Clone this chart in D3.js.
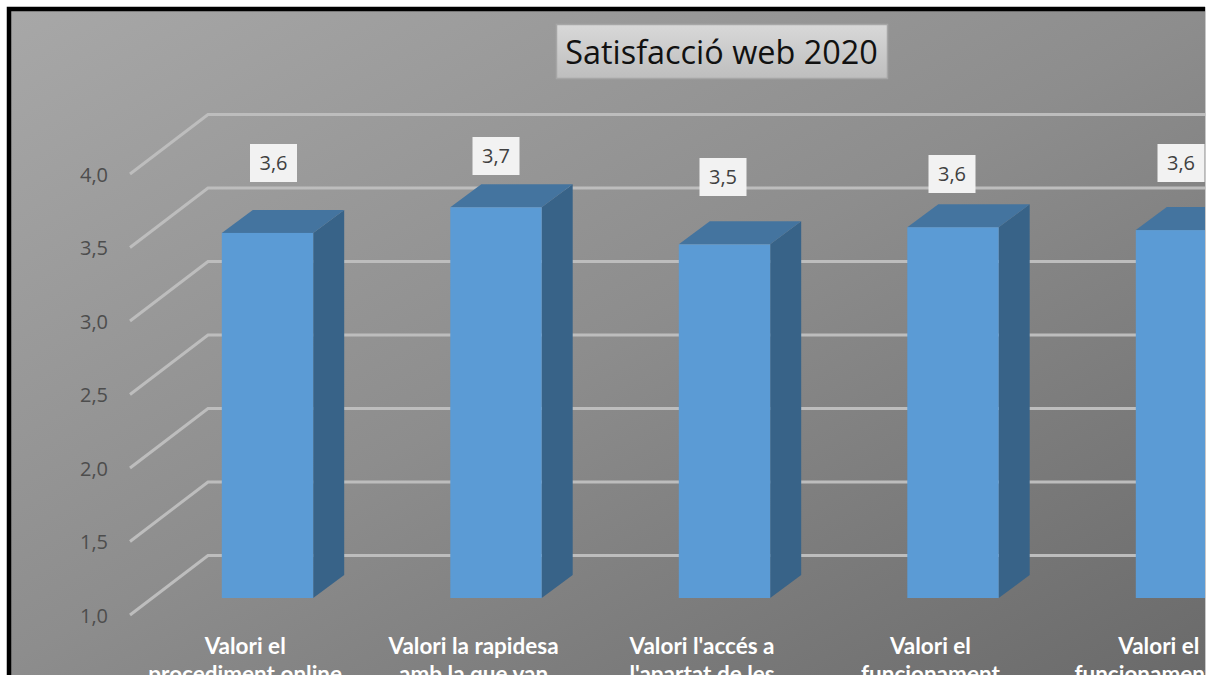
<!DOCTYPE html>
<html>
<head>
<meta charset="utf-8">
<script src="https://cdnjs.cloudflare.com/ajax/libs/d3/7.8.5/d3.min.js"></script>
<style>
html, body { margin: 0; padding: 0; background: #fff; overflow: hidden; }
</style>
</head>
<body>
<div id="chart"></div>
<script>
var titleText = "Satisfacció web 2020";
var catLine1 = ["Valori el", "Valori la rapidesa", "Valori l'accés a", "Valori el", "Valori el"];
var catLine2 = ["procediment online", "amb la que van", "l'apartat de les", "funcionament", "funcionament"];
var values = [3.56, 3.74, 3.48, 3.6, 3.58];
var ticks = [1, 1.5, 2, 2.5, 3, 3.5, 4];

function init(){
    var w = 1208;
    var h = 675;
    var depthX = 78, depthY = 59.5;   // wall depth
    var barDx = 31, barDy = 23;       // bar depth

    var svg = d3.select("#chart").append("svg")
                .attr("width", w)
                .attr("height", h)
                .style("display", "block");

    var fmt = d3.formatLocale({decimal: ",", thousands: ".", grouping: [3], currency: ["", ""]}).format(".1f");

    var defs = svg.append("defs");
    var bg = defs.append("linearGradient").attr("id", "bg")
                .attr("gradientUnits", "userSpaceOnUse")
                .attr("x1", 0).attr("y1", 0).attr("x2", 558).attr("y2", 1028);
    bg.append("stop").attr("offset", 0).attr("stop-color", "#a8a8a8");
    bg.append("stop").attr("offset", 0.5).attr("stop-color", "#8d8d8d");
    bg.append("stop").attr("offset", 1).attr("stop-color", "#6a6a6a");
    var tb = defs.append("linearGradient").attr("id", "titleBg")
                .attr("x1", 0).attr("y1", 0).attr("x2", 0).attr("y2", 1);
    tb.append("stop").attr("offset", 0).attr("stop-color", "#d8d8d8");
    tb.append("stop").attr("offset", 1).attr("stop-color", "#bebebe");

    defs.append("clipPath").attr("id", "plotClip").append("rect")
        .attr("x", 9).attr("y", 9).attr("width", 1196).attr("height", 670);

    // chart area
    svg.append("rect")
        .attr("x", 9).attr("y", 9).attr("width", 1196).attr("height", 680)
        .attr("fill", "url(#bg)");
    svg.append("line").attr("x1", 1205.5).attr("x2", 1205.5).attr("y1", 7).attr("y2", 675)
        .attr("stroke", "#c8c8c8").attr("stroke-width", 1);
    svg.append("path")
        .attr("d", "M9,690V9H1205")
        .attr("fill", "none").attr("stroke", "#000").attr("stroke-width", 4.5);

    var plot = svg.append("g").attr("clip-path", "url(#plotClip)");

    // scales: wall plane and the plane of the bar fronts
    var yWall = d3.scaleLinear().domain([1, 4]).range([615, 174]);
    var yBar = d3.scaleLinear().domain([1, 4]).range([598, 170.2]);
    var x = d3.scaleBand().domain(d3.range(values.length))
                .range([153.25, 1295.75]).paddingInner(0.6).paddingOuter(0.3);
    var xLabel = d3.scaleBand().domain(d3.range(values.length))
                .range([131, 1273]);

    // gridlines
    plot.selectAll("path.grid")
        .data(ticks)
        .enter()
        .append("path")
        .attr("class", "grid")
        .attr("d", function(d){
            var y0 = yWall(d);
            return "M130," + y0 + "L" + (130 + depthX) + "," + (y0 - depthY) + "H1210";
        })
        .attr("fill", "none")
        .attr("stroke", "#bdbdbd")
        .attr("stroke-width", 3);

    // y axis, only the labels
    var axis = d3.axisLeft(yWall).tickValues(ticks).tickSize(0).tickPadding(0).tickFormat(fmt);
    var axisG = svg.append("g").attr("transform", "translate(108,1)").call(axis);
    axisG.select(".domain").remove();
    axisG.selectAll("text")
        .attr("fill", "#4d4d4d")
        .style("font-family", "'Open Sans', sans-serif")
        .style("font-size", "20px");

    // bars
    var bars = plot.selectAll("g.bar")
        .data(values)
        .enter()
        .append("g")
        .attr("class", "bar");
    bars.append("path")
        .attr("fill", "#386388")
        .attr("d", function(d, i){
            var xr = x(i) + x.bandwidth();
            return "M" + xr + "," + yBar(d) + "l" + barDx + "," + (-barDy) +
                   "V" + (yBar(1) - barDy) + "l" + (-barDx) + "," + barDy + "Z";
        });
    bars.append("path")
        .attr("fill", "#44749f")
        .attr("d", function(d, i){
            return "M" + x(i) + "," + yBar(d) + "l" + barDx + "," + (-barDy) +
                   "h" + x.bandwidth() + "l" + (-barDx) + "," + barDy + "Z";
        });
    bars.append("rect")
        .attr("fill", "#5b9bd5")
        .attr("x", function(d, i){ return x(i); })
        .attr("y", function(d){ return yBar(d); })
        .attr("width", x.bandwidth())
        .attr("height", function(d){ return yBar(1) - yBar(d); });

    // data labels, moved by hand like in the original sheet
    var nudgeX = [6, 0, -1.5, -1, -0.5];
    var labelY = [163, 156, 177, 174, 163];
    var labels = plot.selectAll("g.lab")
        .data(values)
        .enter()
        .append("g")
        .attr("class", "lab")
        .attr("transform", function(d, i){
            return "translate(" + (x(i) + x.bandwidth() / 2 + nudgeX[i]) + "," + labelY[i] + ")";
        });
    labels.append("rect")
        .attr("x", -23.5).attr("y", -19).attr("width", 47).attr("height", 38)
        .attr("fill", "#f2f2f2");
    labels.append("text")
        .attr("text-anchor", "middle")
        .attr("dy", "0.36em")
        .attr("fill", "#404040")
        .style("font-family", "'Open Sans', sans-serif")
        .style("font-size", "20px")
        .text(function(d){ return fmt(d); });

    // category labels, the picture cuts them after the second line
    var line2Dx = [0, 0, 0, 0, -15];
    var cats = plot.selectAll("text.cat")
        .data(catLine1)
        .enter()
        .append("text")
        .attr("class", "cat")
        .attr("text-anchor", "middle")
        .attr("fill", "#fff")
        .style("font-family", "Lato, sans-serif")
        .style("font-weight", "bold")
        .style("font-size", "22.5px")
        .attr("transform", function(d, i){
            return "translate(" + (xLabel(i) + xLabel.bandwidth() / 2) + ",0)";
        });
    cats.append("tspan").attr("x", 0).attr("y", 654).text(function(d){ return d; });
    cats.append("tspan").attr("x", function(d, i){ return line2Dx[i]; }).attr("y", 682)
        .text(function(d, i){ return catLine2[i]; });

    // title
    svg.append("rect")
        .attr("x", 556.5).attr("y", 24.5).attr("width", 331).attr("height", 54)
        .attr("fill", "url(#titleBg)")
        .attr("stroke", "#a6a6a6")
        .attr("stroke-width", 1.5);
    svg.append("text")
        .attr("x", 721.5).attr("y", 64)
        .attr("text-anchor", "middle")
        .attr("fill", "#111")
        .style("font-family", "'Open Sans', sans-serif")
        .style("font-size", "32.4px")
        .text(titleText);
}
window.onload = init;
</script>
</body>
</html>
